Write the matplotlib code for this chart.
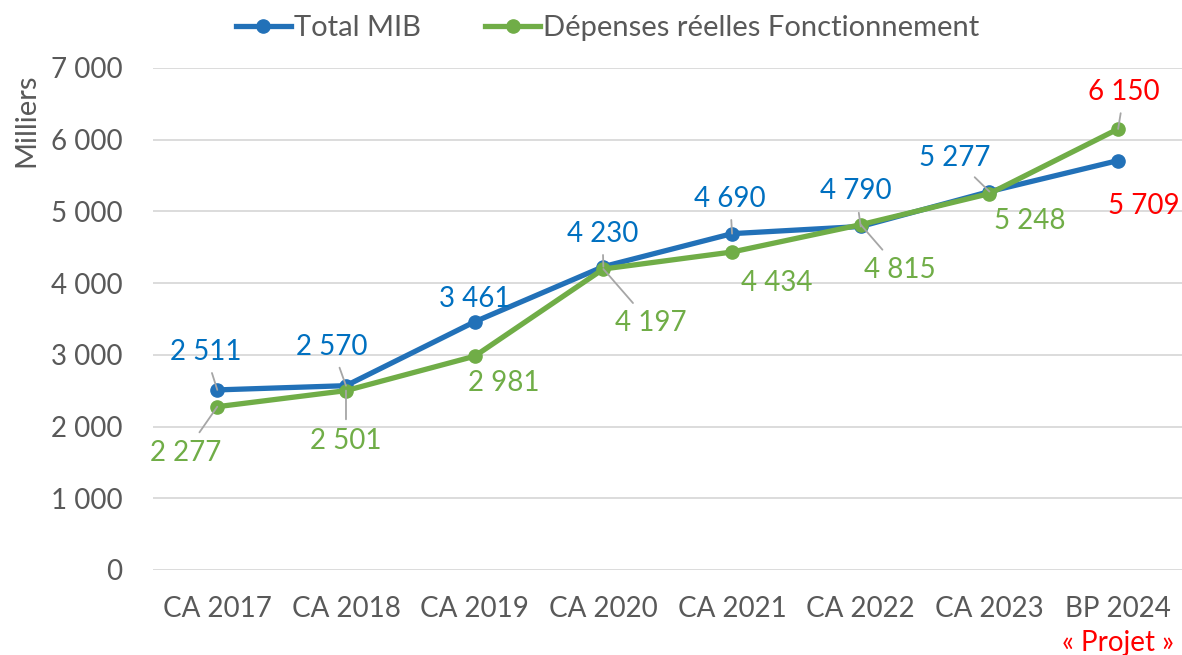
import numpy as np
import matplotlib.pyplot as plt

plt.rcParams['font.family'] = ['Lato', 'DejaVu Sans']

# data
categories = ["CA 2017", "CA 2018", "CA 2019", "CA 2020", "CA 2021", "CA 2022", "CA 2023", "BP 2024"]
total_mib = [2511, 2570, 3461, 4230, 4690, 4790, 5277, 5709]
depenses = [2277, 2501, 2981, 4197, 4434, 4815, 5248, 6150]

# label placement (offset in pixels) and whether Excel drew a leader line
mib_offsets = [(-12, 38), (-14, 39), (0, 23), (-1, 33), (-2, 35), (-5, 35), (-35, 34), (26, -45)]
mib_leader = [True, True, False, True, True, True, True, False]
dep_offsets = [(-32, -46), (0, -50), (29, -27), (47, -54), (45, -31), (39, -45), (40, -27), (6, 37)]
dep_leader = [True, True, False, True, False, True, False, True]

blue = '#2271B8'
green = '#70AD47'
blue_txt = '#0070C0'
red = '#FF0000'
grey = '#595959'


def fmt(v):
    return f'{v:,}'.replace(',', ' ')


fig = plt.figure(figsize=(11.82, 6.55), dpi=100)
ax = fig.add_axes([0.1294, 0.1298, 0.871, 0.7664])

x = np.arange(len(categories))
ax.plot(x, total_mib, color=blue, lw=3.8, marker='o', ms=9.5, label='Total MIB', zorder=3)
ax.plot(x, depenses, color=green, lw=3.8, marker='o', ms=9.5,
        label='Dépenses réelles Fonctionnement', zorder=4)

ax.set_xlim(-0.5, len(categories) - 0.5)
ax.set_ylim(0, 7000)
ax.set_yticks(range(0, 7001, 1000))
ax.set_yticklabels([fmt(v) for v in range(0, 7001, 1000)])
ax.set_xticks(x)
ax.set_xticklabels(categories)
ax.tick_params(axis='both', length=0, labelsize=20, colors=grey)
ax.tick_params(axis='y', pad=22)
ax.tick_params(axis='x', pad=19)
ax.grid(axis='y', color='#D9D9D9', lw=1.3)
ax.set_axisbelow(True)
for s in ax.spines.values():
    s.set_visible(False)


def add_labels(vals, offsets, leaders, color, last_color):
    for i, (v, off, ld) in enumerate(zip(vals, offsets, leaders)):
        c = last_color if i == len(vals) - 1 else color
        props = dict(arrowstyle='-', color='#A6A6A6', lw=1.3, shrinkA=4, shrinkB=0) if ld else None
        ax.annotate(fmt(v), xy=(i, v), xytext=off, textcoords='offset pixels',
                    ha='center', va='center', fontsize=20, color=c,
                    arrowprops=props, zorder=5)


add_labels(total_mib, mib_offsets, mib_leader, blue_txt, red)
add_labels(depenses, dep_offsets, dep_leader, green, red)

ax.annotate('« Projet »', xy=(len(categories) - 1, 0), xycoords=('data', 'axes fraction'),
            xytext=(0, -73), textcoords='offset pixels', ha='center', va='center',
            fontsize=20, color=red)

fig.text(0.022, 1 - 120 / 655, 'Milliers', rotation=90, ha='center', va='center',
         fontsize=21, color=grey)

fig.legend(loc='center', bbox_to_anchor=(0.514, 0.957), ncol=2, frameon=False,
           fontsize=21, handlelength=1.9, handletextpad=0.1, columnspacing=2.2,
           labelcolor=grey)

fig.savefig('out.png', dpi=100)
